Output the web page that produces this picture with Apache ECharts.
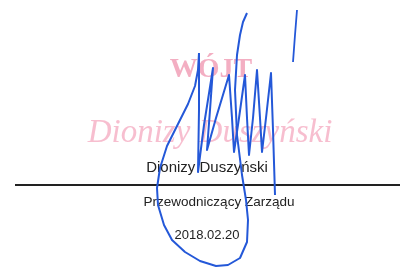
<!DOCTYPE html>
<html>
<head>
<meta charset="utf-8">
<script src="https://cdn.jsdelivr.net/npm/echarts@6/dist/echarts.min.js"></script>
<style>html,body{margin:0;padding:0;background:#fff}#c{width:406px;height:267px}</style>
</head>
<body>
<div id="c"></div>
<script>
// Texts
var stampTitle = 'WÓJT';
var stampName = 'Dionizy Duszyński';
var printedName = 'Dionizy Duszyński';
var printedRole = 'Przewodniczący Zarządu';
var printedDate = '2018.02.20';

// Signature strokes (picture coordinates, y downward)
var sigLoop = [[247,13],[243,22],[240,35],[237,55],[235,90],[237,135],[242,175],[246,200],[248,220],[247,242],[240,258],[228,265],[216,266],[200,261],[185,252],[172,240],[164,225],[158,205],[157,188],[160,168],[167,146],[178,124],[188,104],[195,86],[198,70],[199,53]];
var sigZigzag = [[199,53],[199,110],[198,172],[204,125],[213,68],[210,110],[207,150],[216,118],[229,75],[232,118],[234,152],[239,118],[245,75],[247,118],[249,155],[253,118],[257,70],[260,118],[262,152],[266,118],[271,73],[273,130],[275,195]];
var sigTick = [[297,10],[295,35],[293,62]];
var ruleLine = [[15,185],[400,185]];

var chart = echarts.init(document.getElementById('c'), null, {renderer:'canvas'});
var blue = '#2458d8';
chart.setOption({
  backgroundColor:'#ffffff',
  animation:false,
  grid:{left:0,right:0,top:0,bottom:0},
  xAxis:{type:'value',min:0,max:406,show:false},
  yAxis:{type:'value',min:0,max:267,inverse:true,show:false},
  graphic:[
    {type:'text',z:1,style:{text:printedName,x:207,y:168,textAlign:'center',textVerticalAlign:'middle',font:'15px "Liberation Sans", Arial, sans-serif',fill:'#222'}},
    {type:'text',z:1,style:{text:printedRole,x:219,y:202,textAlign:'center',textVerticalAlign:'middle',font:'13.5px "Liberation Sans", Arial, sans-serif',fill:'#222'}},
    {type:'text',z:1,style:{text:printedDate,x:207,y:235,textAlign:'center',textVerticalAlign:'middle',font:'13px "Liberation Sans", Arial, sans-serif',fill:'#222'}},
    {type:'text',z:1,style:{text:stampTitle,x:211,y:70,textAlign:'center',textVerticalAlign:'middle',font:'bold 28px "Liberation Serif", serif',fill:'#ef93ae',opacity:0.75}},
    {type:'text',z:1,style:{text:stampName,x:210,y:133,textAlign:'center',textVerticalAlign:'middle',font:'italic 33px "Liberation Serif", serif',fill:'#f4a8bf',opacity:0.75}}
  ],
  series:[
    {type:'line',data:ruleLine,symbol:'none',lineStyle:{color:'#222',width:2},z:1,silent:true},
    {type:'line',data:sigLoop,symbol:'none',smooth:false,lineStyle:{color:blue,width:2,join:'round'},z:3,silent:true},
    {type:'line',data:sigZigzag,symbol:'none',smooth:false,lineStyle:{color:blue,width:2,join:'round'},z:3,silent:true},
    {type:'line',data:sigTick,symbol:'none',smooth:false,lineStyle:{color:blue,width:1.8},z:3,silent:true}
  ]
});
</script>
</body>
</html>
